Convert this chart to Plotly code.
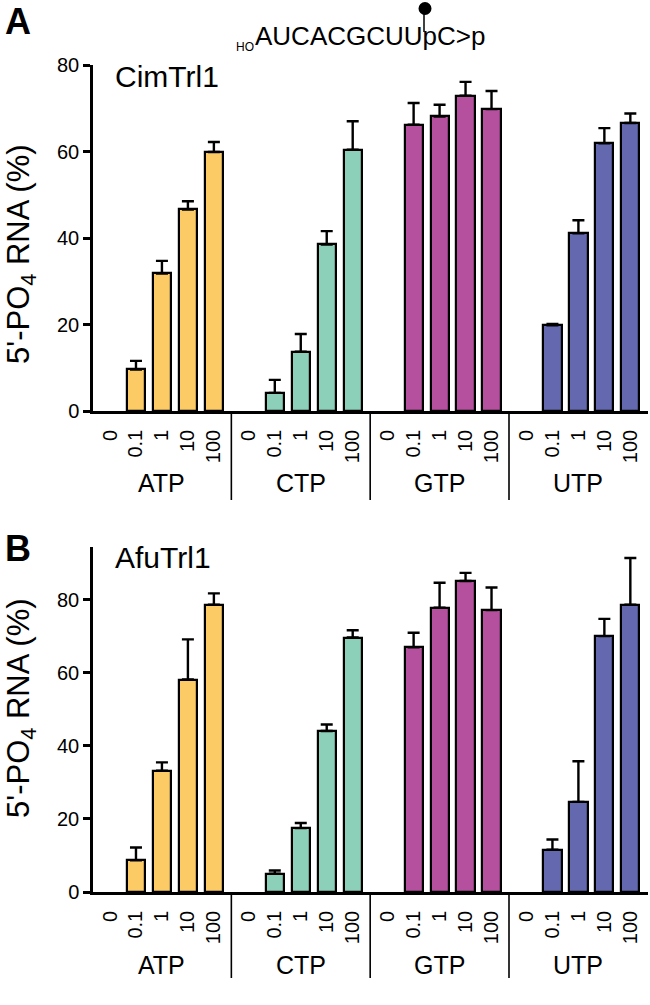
import plotly.graph_objects as go

# ---------------- data ----------------
nucleotides = ["ATP", "CTP", "GTP", "UTP"]
concentrations = ["0", "0.1", "1", "10", "100"]
colors = ["#FCCB66", "#8DD0B9", "#B5509E", "#6368AF"]

# Panel A: CimTrl1 (% 5'-PO4 RNA, mean and upper SEM)
cim_ATP = [0, 9.6, 31.8, 46.6, 59.9]
cim_ATP_err = [0, 2.0, 2.9, 1.9, 2.3]
cim_CTP = [0, 4.2, 13.7, 38.5, 60.4]
cim_CTP_err = [0, 3.0, 4.1, 3.1, 6.6]
cim_GTP = [0, 66.2, 68.1, 72.9, 69.8]
cim_GTP_err = [0, 5.0, 2.7, 3.2, 4.2]
cim_UTP = [0, 19.8, 41.1, 61.9, 66.6]
cim_UTP_err = [0, 0.3, 3.0, 3.5, 2.2]

# Panel B: AfuTrl1
afu_ATP = [0, 8.7, 33.2, 58.2, 78.7]
afu_ATP_err = [0, 3.5, 2.3, 11.0, 3.1]
afu_CTP = [0, 5.0, 17.5, 44.1, 69.7]
afu_CTP_err = [0, 0.9, 1.4, 1.8, 2.0]
afu_GTP = [0, 67.0, 77.9, 85.2, 77.2]
afu_GTP_err = [0, 4.0, 6.8, 2.2, 6.2]
afu_UTP = [0, 11.6, 24.7, 70.1, 78.7]
afu_UTP_err = [0, 2.8, 11.1, 4.7, 12.8]

y_ticks = [0, 20, 40, 60, 80]

panels = [
    dict(name="CimTrl1", letter="A",
         vals=[cim_ATP, cim_CTP, cim_GTP, cim_UTP],
         errs=[cim_ATP_err, cim_CTP_err, cim_GTP_err, cim_UTP_err],
         ymax=80),
    dict(name="AfuTrl1", letter="B",
         vals=[afu_ATP, afu_CTP, afu_GTP, afu_UTP],
         errs=[afu_ATP_err, afu_CTP_err, afu_GTP_err, afu_UTP_err],
         ymax=94.5),
]

# ---------------- layout geometry ----------------
W, H = 650, 1005
ML, MR = 93, 2
PW = W - ML - MR
STRIDE = 5.346          # group stride in slot units
XRANGE = [-0.655, 3 * STRIDE + 4 + 0.68]
FONT = "Liberation Sans, Arial, Helvetica, sans-serif"

def px_x(p):
    return (p - ML) / PW

def px_y(p):
    return 1 - p / H

# pixel geometry of the two panels: (top, bottom)
panel_px = [(65, 411), (547, 892)]
group_label_px = [483, 965]
divider_bottom_px = [500, 978]
name_px = [77, 557]
letter_px = [22, 548]
ytitle_px = [254, 708]

fig = go.Figure()
annotations = []
shapes = []

for p, panel in enumerate(panels):
    xa = "x" if p == 0 else "x2"
    ya = "y" if p == 0 else "y2"
    tickvals, ticktext = [], []
    for g, nuc in enumerate(nucleotides):
        xs = [g * STRIDE + i for i in range(len(concentrations))]
        tickvals += xs
        ticktext += concentrations
        vals = panel["vals"][g]
        # a 0 % result is shown as an empty slot (no bar, no error bar)
        shown = [v if v > 0 else None for v in vals]
        fig.add_trace(go.Bar(
            x=xs, y=shown, xaxis=xa, yaxis=ya,
            width=0.7,
            marker=dict(color=colors[g], line=dict(color="black", width=2.2)),
            error_y=dict(type="data", symmetric=False,
                         array=panel["errs"][g],
                         arrayminus=[0] * len(vals),
                         color="black", thickness=2.4, width=6),
            showlegend=False, name=nuc,
        ))
        annotations.append(dict(
            x=g * STRIDE + 2, xref=xa, y=px_y(group_label_px[p]), yref="paper",
            text=nuc, showarrow=False, xanchor="center", yanchor="middle",
            font=dict(size=25, color="black", family=FONT)))
        if g < 3:
            xd = g * STRIDE + 4 + (STRIDE - 4) / 2
            shapes.append(dict(type="line", xref=xa, yref="paper",
                               x0=xd, x1=xd,
                               y0=px_y(panel_px[p][1]), y1=px_y(divider_bottom_px[p]),
                               line=dict(color="black", width=1.6)))
    top, bot = panel_px[p]
    dom = [px_y(bot), px_y(top)]
    xkey = "xaxis" if p == 0 else "xaxis2"
    ykey = "yaxis" if p == 0 else "yaxis2"
    fig.update_layout(**{
        xkey: dict(domain=[0, 1], anchor=ya, range=XRANGE, automargin=False,
                   tickmode="array", tickvals=tickvals, ticktext=ticktext,
                   tickangle=-90, ticks="", showgrid=False, zeroline=False,
                   showline=True, linecolor="black", linewidth=2.5,
                   ticklabelstandoff=8,
                   tickfont=dict(size=20, color="black", family=FONT)),
        ykey: dict(domain=dom, anchor=xa, range=[0, panel["ymax"]], automargin=False,
                   tickmode="array", tickvals=y_ticks,
                   ticks="outside", ticklen=7, tickwidth=2.5, tickcolor="black",
                   showgrid=False, zeroline=False,
                   showline=True, linecolor="black", linewidth=2.5,
                   tickfont=dict(size=20, color="black", family=FONT)),
    })
    annotations.append(dict(
        x=px_x(113), xref="paper", y=px_y(name_px[p]), yref="paper",
        text=panel["name"], showarrow=False, xanchor="left", yanchor="middle",
        font=dict(size=30, color="black", family=FONT)))
    annotations.append(dict(
        x=px_x(18), xref="paper", y=px_y(letter_px[p]), yref="paper",
        text="<b>" + panel["letter"] + "</b>", showarrow=False,
        xanchor="center", yanchor="middle",
        font=dict(size=36, color="black", family=FONT)))
    annotations.append(dict(
        x=px_x(21), xref="paper", y=px_y(ytitle_px[p]), yref="paper",
        text="5'-PO<sub>4</sub> RNA (%)", textangle=-90, showarrow=False,
        xanchor="center", yanchor="middle",
        font=dict(size=31, color="black", family=FONT)))

# RNA substrate title
annotations.append(dict(
    x=px_x(234), xref="paper", y=px_y(47), yref="paper",
    text="HO", showarrow=False, xanchor="left", yanchor="middle",
    font=dict(size=12, color="black", family=FONT)))
annotations.append(dict(
    x=px_x(253), xref="paper", y=px_y(36), yref="paper",
    text="AUCACGCUUpC&gt;p", showarrow=False,
    xanchor="left", yanchor="middle",
    font=dict(size=26, color="black", family=FONT)))
shapes.append(dict(type="circle", xref="paper", yref="paper",
                   x0=px_x(418.5), x1=px_x(431.5), y0=px_y(2), y1=px_y(15),
                   fillcolor="black", line=dict(color="black", width=0)))
shapes.append(dict(type="line", xref="paper", yref="paper",
                   x0=px_x(424), x1=px_x(424), y0=px_y(12), y1=px_y(32),
                   line=dict(color="black", width=1.5)))

fig.update_layout(
    width=W, height=H,
    margin=dict(l=ML, r=MR, t=0, b=0),
    paper_bgcolor="white", plot_bgcolor="white",
    bargap=0, barmode="overlay",
    annotations=annotations, shapes=shapes,
    font=dict(family=FONT, color="black"),
)

fig.write_html(
    "out.html",
    config={"displayModeBar": False},
    post_script="document.body.style.margin='0';document.body.style.padding='0';"
                "document.body.style.overflow='hidden';",
)
